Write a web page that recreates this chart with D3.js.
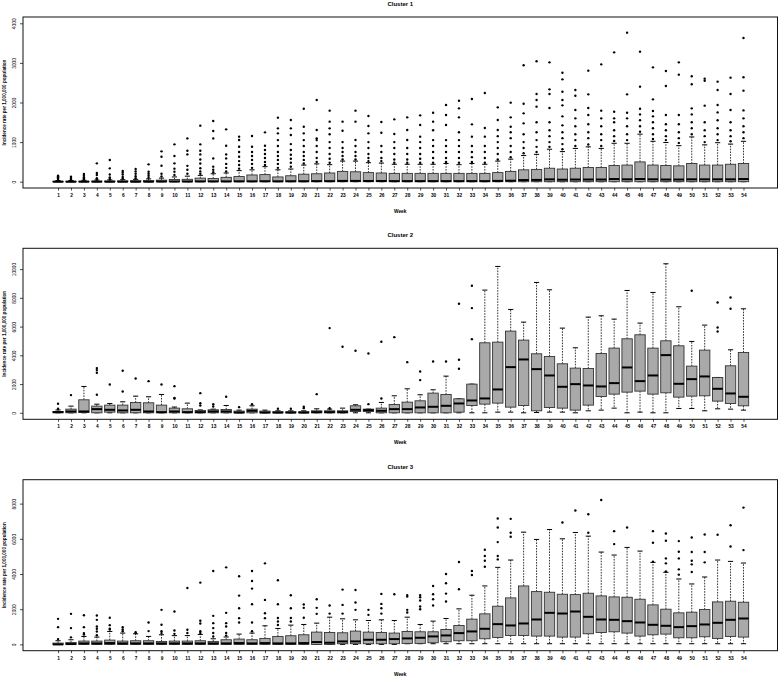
<!DOCTYPE html>
<html lang="en">
<head>
<meta charset="utf-8">
<title>Weekly incidence by cluster</title>
<script src="https://d3js.org/d3.v7.min.js"></script>
<style>
  body { margin: 0; background: #fff; }
  svg text { font-family: "Liberation Sans", Arial, sans-serif; fill: #000; }
</style>
</head>
<body>
<script>
var weeks = d3.range(1, 55);

// ---- Cluster 1 ----
var c1Ticks = [0, 1000, 2000, 3000, 4000];
var c1Lo  = [0,0,0,0,0,0,0,0,0,0, 0,0,0,0,0,0,0,0,0,0, 0,0,0,0,0,0,0,0,0,0, 0,0,0,0,0,0,0,0,0,0, 0,0,0,0,0,0,0,0,0,0, 0,0,0,0];
var c1Q1  = [0,0,0,0,0,0,0,0,0,0, 0,0,0,0,0,0,0,0,0,0, 0,0,0,0,0,0,0,0,0,0, 0,0,0,0,0,0,0,0,0,0, 0,0,0,0,0,0,0,0,0,0, 0,0,0,0];
var c1Med = [0,0,0,0,0,0,0,0,5,5, 5,8,8,8,10,10,12,10,12,12, 15,15,20,20,18,18,15,15,15,15, 15,15,15,15,20,25,42,45,59,50, 55,55,55,67,60,67,60,55,55,60, 60,60,60,67];
var c1Q3  = [10,10,12,15,18,20,25,28,40,55, 60,90,80,110,130,170,180,120,150,190, 200,220,260,250,230,220,210,210,210,210, 210,210,210,210,230,260,300,310,340,320, 340,360,360,410,420,500,420,410,400,460, 420,420,440,460];
var c1Hi  = [30,30,35,40,45,50,60,70,90,120, 140,160,200,220,280,300,380,300,320,420, 450,430,520,520,480,470,440,440,440,440, 460,430,460,440,520,570,660,690,820,760, 840,880,840,970,970,1200,1020,990,910,1130, 930,985,950,1020];
var c1Out = [
  [50,80,110,140,152], [50,70,95,126], [55,80,110,150,194], [60,90,170,220,463],
  [70,110,180,337,547], [80,120,180,230,270], [90,140,200,260,320], [100,150,200,250,438],
  [130,200,404,631,766], [170,250,330,463,648,943], [200,300,400,690,783,1094],
  [200,260,340,460,560,690,783,943,1415], [240,300,380,589,1094,1280,1532],
  [260,350,450,589,690,909,1322], [330,420,520,631,750,884,1052,1137],
  [350,450,550,650,750,884,1154], [420,500,600,700,800,909,1246],
  [350,450,550,650,750,900,1050,1221,1347,1617], [380,480,580,680,800,950,1179,1347,1558],
  [460,550,650,750,900,1050,1221,1389,1844], [500,600,750,900,1050,1095,1305,2063],
  [480,580,700,850,1000,1200,1347,1516,1794], [560,650,750,850,1000,1288,1516],
  [560,650,750,900,1052,1516,1794], [520,600,700,850,1000,1221,1406,1659],
  [520,600,750,900,1238,1507], [480,560,700,850,1000,1204,1575],
  [480,560,700,850,1052,1305,1625], [480,580,700,850,1000,1137,1431,1676],
  [480,600,750,900,1050,1300,1516,1743], [500,600,750,900,1050,1431,1684,1937],
  [480,600,750,900,1050,1250,1625,1852,2046], [500,620,750,900,1137,1448,2088],
  [480,600,750,900,1137,1356,2240], [560,700,850,1000,1150,1305,1558,1878],
  [620,750,900,1100,1250,1389,1625,1996], [720,850,1000,1200,1474,1726,1970,2939],
  [750,880,1050,1250,1500,1895,2063,2214,3040], [880,1000,1150,1300,1500,1861,2214,2332,3014],
  [820,950,1100,1250,1423,1650,1928,2063,2273,2585,2753], [900,1050,1200,1400,1600,1810,2172,2315],
  [940,1100,1250,1450,1684,1861,2206,2804], [900,1050,1200,1400,1600,1794,2964],
  [1030,1150,1300,1500,1600,1768,3267], [1050,1200,1400,1600,1743,2206,3764],
  [1260,1400,1550,1700,1844,2400,3284], [1080,1200,1350,1500,1650,1785,2080,2888],
  [1050,1150,1300,1450,1684,2417,2796], [980,1100,1250,1450,1684,2703,3014],
  [1200,1350,1500,1700,1852,2459,2661], [1000,1150,1300,1500,1920,2551,2602],
  [1050,1200,1350,1550,1750,1937,2315,2526], [1020,1150,1300,1500,1810,2214,2627],
  [1100,1250,1400,1600,1800,2299,2636,3629]
];

// ---- Cluster 2 ----
var c2Ticks = [0, 2000, 4000, 6000, 8000, 10000];
var c2Lo  = [0,0,0,0,0,0,0,0,0,0, 0,0,0,0,0,0,0,0,0,0, 0,0,0,0,0,0,0,0,0,0, 0,0,0,0,46,46,0,23,46,46, 0,139,186,325,0,46,0,0,302,302, 139,278,255,186];
var c2Q1  = [0,0,23,0,46,0,0,0,0,0, 0,0,0,0,0,0,0,0,0,0, 0,0,0,93,93,0,0,0,0,0, 0,46,510,603,673,394,510,139,371,325, 186,534,1137,1299,1438,1508,1299,1392,1090,1160, 1183,812,650,487];
var c2Med = [50,93,93,255,209,162,209,93,46,93, 46,46,93,93,20,139,20,20,20,20, 46,46,46,209,186,139,255,255,371,418, 487,650,858,998,1624,3178,3712,3039,2598,1810, 1995,1902,1833,2065,3155,2204,2598,4014,2018,2343, 2529,1670,1346,1114];
var c2Q3  = [93,255,905,464,534,534,719,696,534,325, 278,162,209,232,116,255,116,70,70,70, 139,139,139,487,255,325,580,742,835,1369, 1276,974,1995,4872,4918,5684,5058,4106,3921,3410, 3109,3086,4130,4501,5150,5429,4501,5011,4663,3248, 4362,2459,3271,4199];
var c2Hi  = [200,464,1833,600,650,766,1160,1114,1276,400, 673,200,255,510,186,487,186,139,139,139, 278,255,325,557,255,719,1183,1670,1253,1601, 2552,974,1995,8538,10185,7192,6310,9071,8561,5893, 4524,6658,6751,6519,8514,6241,8375,10370,7378,4965, 6102,2459,4385,7238];
var c2Out = [
  [278,626], [1230], [], [1253,2784,2970,3109], [1972], [1485,2923], [2390], [2204], [1972],
  [998,1030,1856], [], [510,673,1369], [441,603], [1114], [394], [603], [], [278], [278],
  [325,418], [1299], [325,5893], [4594], [4315], [603,4130], [998,4942], [5266], [3526],
  [2274,2877], [3573], [3573], [3062,3689,7586], [5127,7285,8840],
  [], [], [], [], [], [], [], [], [], [], [], [], [], [], [], [],
  [8491], [], [5661,5939,7679], [7238,8027], []
];

// ---- Cluster 3 ----
var c3Ticks = [0, 2000, 4000, 6000, 8000];
var c3Lo  = [0,0,0,0,0,0,0,0,0,0, 0,0,0,0,0,0,0,0,0,0, 0,0,0,0,0,0,0,38,38,38, 38,38,38,38,38,38,38,38,38,38, 38,38,38,38,38,38,38,38,38,38, 38,38,38,38];
var c3Q1  = [0,0,0,0,0,0,0,0,0,0, 0,0,0,0,0,0,0,0,0,0, 0,0,38,38,38,38,38,57,57,94, 151,208,208,321,396,509,509,472,472,415, 415,604,679,717,642,472,547,585,377,377, 434,340,453,415];
var c3Med = [0,20,57,57,75,57,57,57,57,57, 57,57,57,57,75,57,75,57,57,75, 132,94,170,170,264,264,302,340,377,453, 509,642,736,887,1151,1076,1189,1415,1793,1755, 1868,1566,1415,1396,1321,1245,1113,1057,981,1038, 1132,1227,1396,1472];
var c3Q3  = [75,113,189,189,245,189,208,208,170,189, 189,208,170,264,302,264,340,453,491,547, 698,679,660,755,698,679,642,736,717,717, 849,1076,1434,1736,2170,2642,3321,3000,2963,2849, 2830,2906,2755,2698,2679,2566,2245,2000,1793,1830, 1981,2415,2453,2396];
var c3Hi  = [208,264,453,415,736,642,604,453,547,500, 500,566,320,420,585,642,1057,906,1094,1132, 1208,1547,1453,1396,1359,1396,1359,1547,1132,1321, 1472,2019,2793,3321,4378,4793,6378,5963,6529,6000, 6359,6151,5246,5076,5510,5302,4661,4095,3717,3434, 3830,4793,4717,4623];
var c3Out = [
  [300,981,1453], [400,925,1736], [560,642,981,1660], [520,736,887,1019,1396,1642],
  [850,887,1094,1510], [750,850,981], [650,700], [755,1245], [642,750,1113,1962],
  [600,793,1868], [650,830,3208], [650,750,1189,1340,3510], [450,650,925,1208,1623,4170],
  [500,650,1019,1208,1793,4378], [1245,1491,2057,2774,3868], [750,1245,2283,3170,3604,4170],
  [1491,1774,2529,4604], [1100,1300,1500,2283,3642], [1300,1500,2057,2793], [1510,2076,2264],
  [1736,2076,2566], [1750,2208], [1750,2245,3114], [1962,2378,3095], [1679,1962],
  [1750,2057,2302,2868], [2849], [1811,1962,2717,2800], [2000,2150,2491,2680,2800],
  [2208,2566,2849,3321], [2434,2887,3472,4000], [3132,4680], [3944,4170],
  [4415,4755,5019,5378], [4830,5019,5812,6642,7152], [6114,6340,7133], [], [], [],
  [6925], [7604], [6340,7397], [8208], [5699,6435], [6642], [], [4700,5774,6435],
  [4150,4604,4887,5887,6302], [3963,4264,4887,5265,5868], [4114,4548,4755,5246,6076],
  [4661,5246,6246], [6227], [5566,6774], [5359,7774]
];

var width = 780, height = 676;
var boxLeft = 23, boxRight = 777.5, boxH = 171;

var panels = [
  {title: "Cluster 1", top: 17,    zeroY: 181.7, topTickY: 23.3,  ticks: c1Ticks, lo: c1Lo, q1: c1Q1, med: c1Med, q3: c1Q3, hi: c1Hi, out: c1Out},
  {title: "Cluster 2", top: 248.3, zeroY: 412.8, topTickY: 269.1, ticks: c2Ticks, lo: c2Lo, q1: c2Q1, med: c2Med, q3: c2Q3, hi: c2Hi, out: c2Out},
  {title: "Cluster 3", top: 479.7, zeroY: 644.4, topTickY: 503.6, ticks: c3Ticks, lo: c3Lo, q1: c3Q1, med: c3Med, q3: c3Q3, hi: c3Hi, out: c3Out}
];

var svg = d3.select("body").append("svg")
  .attr("width", width)
  .attr("height", height);

var x = d3.scaleLinear().domain([-1.71, 56.63]).range([boxLeft, boxRight]);
var unit = x(2) - x(1);
var boxW = unit * 0.8, stapleW = unit * 0.4;

panels.forEach(function(p) {
  var y = d3.scaleLinear().domain([0, d3.max(p.ticks)]).range([p.zeroY, p.topTickY]);
  var g = svg.append("g");
  var bottom = p.top + boxH;

  var rows = weeks.map(function(w, i) {
    return {week: w, lo: p.lo[i], q1: p.q1[i], med: p.med[i], q3: p.q3[i], hi: p.hi[i], out: p.out[i]};
  });

  // whiskers
  g.selectAll(".wh-up").data(rows).enter().append("line")
    .attr("x1", function(d) { return x(d.week); }).attr("x2", function(d) { return x(d.week); })
    .attr("y1", function(d) { return y(d.q3); }).attr("y2", function(d) { return y(d.hi); })
    .attr("stroke", "#000").attr("stroke-width", 0.8).attr("stroke-dasharray", "1.6,1.2");
  g.selectAll(".wh-lo").data(rows).enter().append("line")
    .attr("x1", function(d) { return x(d.week); }).attr("x2", function(d) { return x(d.week); })
    .attr("y1", function(d) { return y(d.q1); }).attr("y2", function(d) { return y(d.lo); })
    .attr("stroke", "#000").attr("stroke-width", 0.8).attr("stroke-dasharray", "1.6,1.2");

  // staples
  ["hi", "lo"].forEach(function(k) {
    g.selectAll(".st-" + k).data(rows).enter().append("line")
      .attr("x1", function(d) { return x(d.week) - stapleW / 2; })
      .attr("x2", function(d) { return x(d.week) + stapleW / 2; })
      .attr("y1", function(d) { return y(d[k]); }).attr("y2", function(d) { return y(d[k]); })
      .attr("stroke", "#000").attr("stroke-width", 1);
  });

  // boxes
  g.selectAll(".bx").data(rows).enter().append("rect")
    .attr("x", function(d) { return x(d.week) - boxW / 2; })
    .attr("width", boxW)
    .attr("y", function(d) { return y(d.q3); })
    .attr("height", function(d) { return Math.max(0.5, y(d.q1) - y(d.q3)); })
    .attr("fill", "#a9a9a9").attr("stroke", "#333").attr("stroke-width", 0.9);

  // medians
  g.selectAll(".md").data(rows).enter().append("line")
    .attr("x1", function(d) { return x(d.week) - boxW / 2; })
    .attr("x2", function(d) { return x(d.week) + boxW / 2; })
    .attr("y1", function(d) { return y(d.med); }).attr("y2", function(d) { return y(d.med); })
    .attr("stroke", "#000").attr("stroke-width", 2);

  // outliers
  var pts = [];
  rows.forEach(function(d) { d.out.forEach(function(v) { pts.push({week: d.week, v: v}); }); });
  g.selectAll(".ol").data(pts).enter().append("circle")
    .attr("cx", function(d) { return x(d.week); })
    .attr("cy", function(d) { return y(d.v); })
    .attr("r", 1.2).attr("fill", "#000");

  // frame
  g.append("rect")
    .attr("x", boxLeft).attr("y", p.top)
    .attr("width", boxRight - boxLeft).attr("height", boxH)
    .attr("fill", "none").attr("stroke", "#111").attr("stroke-width", 1);

  // y axis (labels parallel to the axis, as in R)
  var yAxis = g.append("g").attr("transform", "translate(" + boxLeft + ",0)")
    .call(d3.axisLeft(y).tickValues(p.ticks).tickSize(3).tickFormat(d3.format("d")));
  yAxis.select(".domain").remove();
  yAxis.selectAll("line").attr("stroke", "#000").attr("stroke-width", 0.7);
  yAxis.selectAll("text")
    .attr("font-size", 4.8)
    .attr("font-family", "Liberation Sans, Arial, sans-serif")
    .attr("text-anchor", "middle")
    .attr("x", 0).attr("y", 0).attr("dy", "0.35em")
    .attr("transform", "translate(-8.5,0) rotate(-90)");

  // x axis
  var xAxis = g.append("g").attr("transform", "translate(0," + bottom + ")")
    .call(d3.axisBottom(x).tickValues(weeks).tickSize(2.5).tickPadding(3).tickFormat(d3.format("d")));
  xAxis.select(".domain").remove();
  xAxis.selectAll("line").attr("stroke", "#000").attr("stroke-width", 0.7);
  xAxis.selectAll("text").attr("font-size", 4.8).attr("font-weight", "bold")
    .attr("font-family", "Liberation Sans, Arial, sans-serif");

  // titles
  g.append("text")
    .attr("x", (boxLeft + boxRight) / 2).attr("y", p.top - 11)
    .attr("text-anchor", "middle").attr("font-size", 6).attr("font-weight", "bold")
    .text(p.title);
  g.append("text")
    .attr("x", (boxLeft + boxRight) / 2).attr("y", bottom + 25)
    .attr("text-anchor", "middle").attr("font-size", 4.8).attr("font-weight", "bold")
    .text("Week");
  g.append("text")
    .attr("transform", "translate(6," + (p.top + boxH / 2) + ") rotate(-90)")
    .attr("text-anchor", "middle").attr("font-size", 4.6).attr("font-weight", "bold")
    .text("Incidence rate per 1,000,000 population");
});
</script>
</body>
</html>
